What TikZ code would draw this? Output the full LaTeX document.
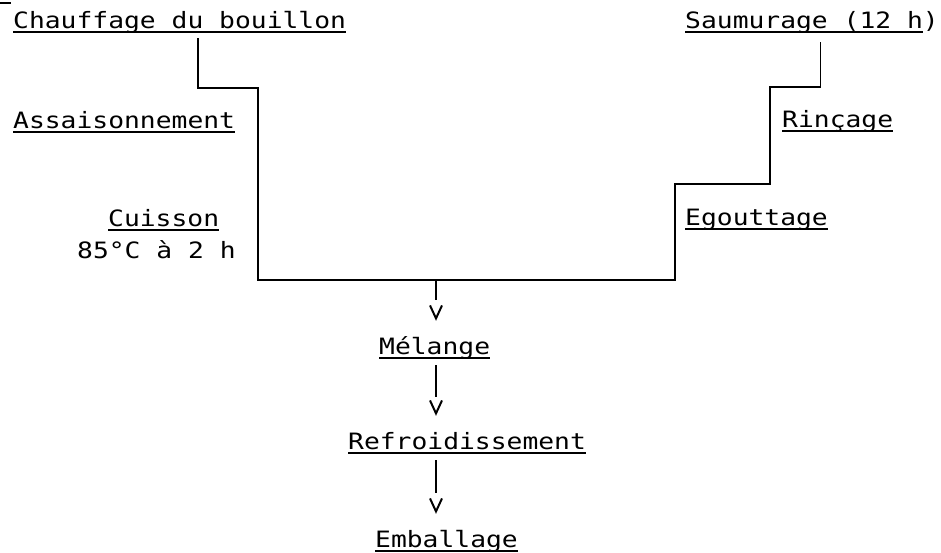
\documentclass[tikz,border=0pt]{standalone}
\usepackage{fontspec}
\usetikzlibrary{arrows.meta,positioning,calc}
\newfontfamily\machine[FakeStretch=1.17]{DejaVu Sans Mono}
\newcommand{\souligne}[1]{\setbox0=\hbox{#1}\rlap{\rule[-4.5pt]{\wd0}{1.8pt}}\box0}

\begin{document}
\begin{tikzpicture}[x=1pt, y=-1pt,
    every node/.style={font=\machine\fontsize{22.5}{27}\selectfont, inner sep=0pt, text height=17pt, text depth=5pt},
    wire/.style={line width=1.8pt},
    flow/.style={line width=1.1pt, shorten >=16pt, -{Straight Barb[length=13pt,width=12pt,line width=2pt]}, dash pattern=on #1 off 300pt}]
  \useasboundingbox (0,0) rectangle (941,552);
  \draw[line width=1.2pt] (0,3) -- (11,3);
  % Two branches (nodes on their base line)
  \node[anchor=base west] (chauf) at (13,28) {\souligne{Chauffage du bouillon}};
  \node[anchor=base west] (assai) at (13,128) {\souligne{Assaisonnement}};
  \node[anchor=base west] (cuis) at (108,226) {\souligne{Cuisson}};
  \node[anchor=base west] (cuisT) at (77,258) {85°C à 2 h};
  \node[anchor=base west] (saum) at (685,28) {\souligne{Saumurage (12 h})};
  \node[anchor=base west] (rinc) at (782,127) {\souligne{Rinçage}};
  \node[anchor=base west] (egou) at (685,225) {\souligne{Egouttage}};
  % Common line
  \node[anchor=base west] (mel) at (379,354) {\souligne{Mélange}};
  \node[anchor=base west] (refr) at (348,449) {\souligne{Refroidissement}};
  \node[anchor=base west] (emb) at (375,547) {\souligne{Emballage}};
  \coordinate (jn) at (436,280);
  % Steps joining both branches
  \draw[wire] ([xshift=18pt,yshift=-5pt]chauf.south) |- (258,88) |- (jn)
    -| (675,184) -| (770,87) -| ([xshift=8.5pt,yshift=-9pt]saum.south);
  % Arrows down the line
  \draw[flow=20pt] (jn) -- (jn |- mel.north);
  \draw[flow=32pt, shorten <=6pt] (jn |- mel.south) -- (jn |- refr.north);
  \draw[flow=33pt, shorten <=6pt] (jn |- refr.south) -- (jn |- emb.north);
\end{tikzpicture}
\end{document}
